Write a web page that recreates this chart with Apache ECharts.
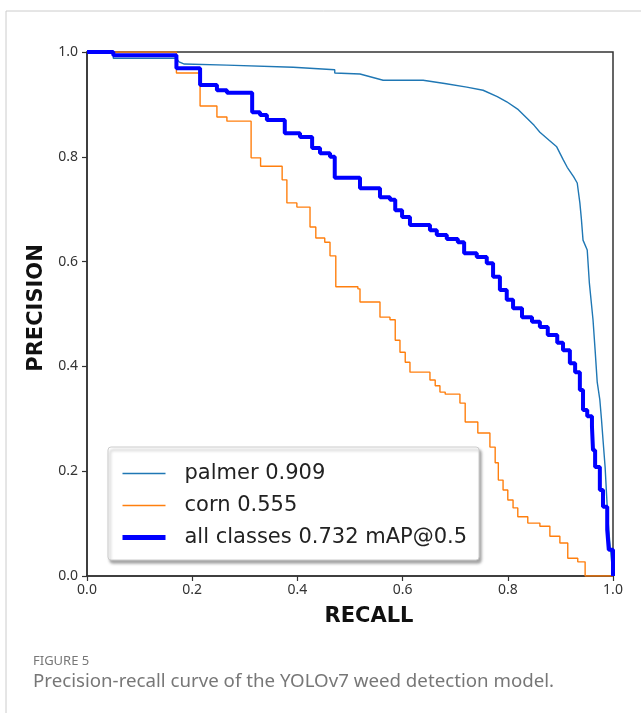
<!DOCTYPE html>
<html>
<head>
<meta charset="utf-8">
<script src="https://cdn.jsdelivr.net/npm/echarts@6/dist/echarts.min.js"></script>
<style>
html, body { margin: 0; padding: 0; background: #fff; }
#chart { width: 641px; height: 713px; }
</style>
</head>
<body>
<div id="chart"></div>
<script>
// tick positions (both axes)
const axisTicks = [0, 0.2, 0.4, 0.6, 0.8, 1.0];
const seriesNames = ['palmer 0.909', 'corn 0.555', 'all classes 0.732 mAP@0.5'];

// [recall, precision]
const palmerPR = [
  [0, 1], [0.05, 1], [0.05, 0.988], [0.17, 0.988], [0.175, 0.981], [0.185, 0.977],
  [0.266, 0.975], [0.392, 0.971], [0.471, 0.966], [0.471, 0.96], [0.519, 0.958],
  [0.563, 0.946], [0.639, 0.946], [0.68, 0.94], [0.722, 0.933], [0.753, 0.927],
  [0.78, 0.915], [0.798, 0.905], [0.82, 0.89], [0.836, 0.874], [0.85, 0.86],
  [0.861, 0.847], [0.878, 0.832], [0.893, 0.819], [0.905, 0.795], [0.913, 0.78],
  [0.925, 0.762], [0.932, 0.75], [0.937, 0.712], [0.94, 0.68], [0.943, 0.641],
  [0.951, 0.622], [0.955, 0.56], [0.962, 0.489], [0.966, 0.431], [0.97, 0.37],
  [0.975, 0.336], [0.978, 0.3], [0.981, 0.26], [0.985, 0.208], [0.99, 0.113],
  [0.994, 0.063], [1.0, 0]
];

const cornPR = [
  [0, 1], [0.17, 0.96], [0.215, 0.897], [0.247, 0.876], [0.266, 0.868], [0.312, 0.798],
  [0.33, 0.782], [0.371, 0.756], [0.38, 0.712], [0.399, 0.704], [0.424, 0.666],
  [0.435, 0.645], [0.452, 0.637], [0.462, 0.611], [0.473, 0.552], [0.515, 0.548],
  [0.519, 0.523], [0.557, 0.494], [0.576, 0.489], [0.586, 0.45], [0.595, 0.427],
  [0.605, 0.408], [0.614, 0.389], [0.652, 0.374], [0.662, 0.363], [0.671, 0.351],
  [0.681, 0.347], [0.709, 0.33], [0.719, 0.294], [0.743, 0.273], [0.766, 0.246],
  [0.776, 0.216], [0.782, 0.183], [0.791, 0.164], [0.8, 0.145], [0.81, 0.13],
  [0.819, 0.113], [0.838, 0.101], [0.861, 0.095], [0.88, 0.076], [0.899, 0.063],
  [0.914, 0.034], [0.933, 0.027], [0.947, 0], [1.0, 0]
];

const allPR = [
  [0, 1], [0.05, 0.994], [0.17, 0.969], [0.215, 0.937], [0.247, 0.927], [0.266, 0.922],
  [0.314, 0.885], [0.329, 0.88], [0.342, 0.87], [0.376, 0.845], [0.405, 0.838],
  [0.428, 0.817], [0.443, 0.807], [0.462, 0.8], [0.471, 0.76], [0.519, 0.74],
  [0.557, 0.723], [0.576, 0.718], [0.586, 0.698], [0.599, 0.685], [0.614, 0.67],
  [0.652, 0.66], [0.665, 0.651], [0.684, 0.643], [0.705, 0.637], [0.717, 0.616],
  [0.741, 0.609], [0.76, 0.597], [0.772, 0.571], [0.785, 0.546], [0.798, 0.527],
  [0.81, 0.511], [0.827, 0.494], [0.846, 0.485], [0.861, 0.475], [0.876, 0.46],
  [0.894, 0.445], [0.905, 0.431], [0.918, 0.406], [0.928, 0.389], [0.937, 0.355],
  [0.943, 0.317], [0.951, 0.305], [0.96, 0.285], [0.962, 0.24], [0.966, 0.208],
  [0.975, 0.164], [0.981, 0.132], [0.989, 0.088], [0.992, 0.05], [1.0, 0]
];

const seriesColors = ['#1f77b4', '#ff7f0e', '#0000ff'];
const seriesWidths = [1.4, 1.4, 4];

const myChart = echarts.init(document.getElementById('chart'), null, { renderer: 'canvas' });

const tickFont = { fontFamily: 'Noto Sans', fontSize: 14, color: '#333' };
const nameFont = { fontFamily: 'DejaVu Sans', fontSize: 21, fontWeight: 'bold', color: '#111' };

const option = {
  animation: false,
  backgroundColor: '#fff',
  grid: {
    left: 87, right: 28, top: 52, bottom: 137,
    show: true, borderColor: '#333', borderWidth: 1.5, backgroundColor: 'transparent'
  },
  legend: {
    orient: 'vertical',
    left: 108, top: 447,
    data: seriesNames.map((n, i) => ({
      name: n,
      lineStyle: { color: seriesColors[i], width: i === 2 ? 5 : 1.4 }
    })),
    itemWidth: 43, itemHeight: 14, itemGap: 11,
    padding: [16, 12, 12, 12],
    backgroundColor: '#fff',
    borderColor: '#ccc', borderWidth: 1, borderRadius: 3,
    shadowColor: 'rgba(0,0,0,0.35)', shadowBlur: 3, shadowOffsetX: 2, shadowOffsetY: 3,
    // hide the symbol drawn in the middle of the legend line
    itemStyle: { color: 'transparent', borderWidth: 0, opacity: 0 },
    textStyle: { fontFamily: 'DejaVu Sans', fontSize: 21, color: '#222', padding: [0, 0, 0, 14] }
  },
  xAxis: {
    type: 'value', min: 0, max: 1, interval: 0.2,
    name: 'RECALL', nameLocation: 'middle', nameGap: 30,
    nameTextStyle: { ...nameFont, padding: [0, 0, 0, 38] },
    axisLine: { show: true, lineStyle: { color: '#333', width: 1.5 } },
    axisTick: { show: true, length: 5, lineStyle: { color: '#333', width: 1.2 } },
    axisLabel: { margin: 7, formatter: v => v.toFixed(1), ...tickFont },
    splitLine: { show: false }
  },
  yAxis: {
    type: 'value', min: 0, max: 1, interval: 0.2,
    name: 'PRECISION', nameLocation: 'middle', nameGap: 38, nameRotate: 90,
    nameTextStyle: { ...nameFont, padding: [0, 0, 0, 12] },
    axisLine: { show: true, lineStyle: { color: '#333', width: 1.5 } },
    axisTick: { show: true, length: 5, lineStyle: { color: '#333', width: 1.2 } },
    axisLabel: { margin: 9, formatter: v => v.toFixed(1), ...tickFont },
    splitLine: { show: false }
  },
  series: [
    {
      name: seriesNames[0], type: 'line', data: palmerPR, symbol: 'none',
      lineStyle: { color: seriesColors[0], width: seriesWidths[0] }, itemStyle: { color: seriesColors[0] }
    },
    {
      name: seriesNames[1], type: 'line', data: cornPR, symbol: 'none', step: 'end',
      lineStyle: { color: seriesColors[1], width: seriesWidths[1] }, itemStyle: { color: seriesColors[1] }
    },
    {
      name: seriesNames[2], type: 'line', data: allPR, symbol: 'none', step: 'end',
      lineStyle: { color: seriesColors[2], width: seriesWidths[2] }, itemStyle: { color: seriesColors[2] }
    }
  ],
  graphic: [
    { type: 'line', shape: { x1: 6, y1: 11, x2: 641, y2: 11 }, style: { stroke: '#ccc', lineWidth: 1 } },
    { type: 'line', shape: { x1: 6, y1: 11, x2: 6, y2: 713 }, style: { stroke: '#ccc', lineWidth: 1 } },
    {
      type: 'text', left: 33, top: 655,
      style: { text: 'FIGURE 5', fontFamily: 'Noto Sans', fontSize: 13, fill: '#777' }
    },
    {
      type: 'text', left: 33, top: 672,
      style: { text: 'Precision-recall curve of the YOLOv7 weed detection model.', fontFamily: 'Noto Sans', fontSize: 18.7, fill: '#777' }
    }
  ]
};

myChart.setOption(option);
</script>
</body>
</html>
